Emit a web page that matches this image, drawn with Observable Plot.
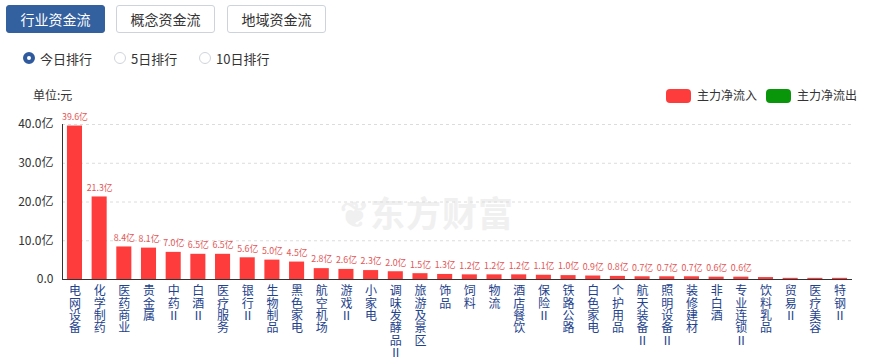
<!DOCTYPE html>
<html><head><meta charset="utf-8">
<script src="https://cdn.jsdelivr.net/npm/d3@7"></script>
<script src="https://cdn.jsdelivr.net/npm/@observablehq/plot@0.6"></script>
<style>
body{margin:0;background:#fff;font-family:"Noto Sans CJK SC","Noto Sans",sans-serif;width:873px;height:364px;overflow:hidden;position:relative;}
.btn{position:absolute;top:5px;height:28px;width:99px;border:1px solid #ccd3dc;border-radius:3px;box-sizing:border-box;font-size:14px;line-height:26px;text-align:center;color:#333;background:#fff;}
.btn.on{background:#33609f;color:#fff;border-color:#33609f;}
.radio{position:absolute;top:50px;font-size:13px;color:#333;line-height:18px;}
.radio i{position:absolute;left:-17px;top:2px;width:12px;height:12px;border-radius:50%;border:1px solid #d0d4da;box-sizing:border-box;background:#fff;}
.radio i.on{border:4px solid #2f5a9e;}
#unit{position:absolute;left:33px;top:86px;font-size:12px;color:#333;}
.leg{position:absolute;top:87px;font-size:12px;color:#333;line-height:16px;}
.leg b{position:absolute;left:-31px;top:2px;width:25px;height:14px;border-radius:4px;}
#wm{position:absolute;left:340px;top:186px;font-size:35px;font-weight:bold;color:#f0f0f0;letter-spacing:1px;}
#chart{position:absolute;left:0;top:80px;}
</style></head>
<body>
<div class="btn on" style="left:6px">行业资金流</div>
<div class="btn" style="left:116px">概念资金流</div>
<div class="btn" style="left:227px">地域资金流</div>
<div class="radio" style="left:40px"><i class="on"></i>今日排行</div>
<div class="radio" style="left:131px"><i></i>5日排行</div>
<div class="radio" style="left:216px"><i></i>10日排行</div>
<div id="wm">❦东方财富</div>
<div id="chart"></div>
<div id="unit">单位:元</div>
<div class="leg" style="left:697px"><b style="background:#fe3c3c"></b>主力净流入</div>
<div class="leg" style="left:797px"><b style="background:#0a960a"></b>主力净流出</div>
<script>
const categories = ["电网设备","化学制药","医药商业","贵金属","中药Ⅱ","白酒Ⅱ","医疗服务","银行Ⅱ","生物制品","黑色家电","航空机场","游戏Ⅱ","小家电","调味发酵品Ⅱ","旅游及景区","饰品","饲料","物流","酒店餐饮","保险Ⅱ","铁路公路","白色家电","个护用品","航天装备Ⅱ","照明设备Ⅱ","装修建材","非白酒","专业连锁Ⅱ","饮料乳品","贸易Ⅱ","医疗美容","特钢Ⅱ"];
const values = [39.6,21.3,8.4,8.1,7.0,6.5,6.5,5.6,5.0,4.5,2.8,2.6,2.3,2.0,1.5,1.3,1.2,1.2,1.2,1.1,1.0,0.9,0.8,0.7,0.7,0.7,0.6,0.6,0.5,0.3,0.3,0.3];
const valueLabels = ["39.6亿","21.3亿","8.4亿","8.1亿","7.0亿","6.5亿","6.5亿","5.6亿","5.0亿","4.5亿","2.8亿","2.6亿","2.3亿","2.0亿","1.5亿","1.3亿","1.2亿","1.2亿","1.2亿","1.1亿","1.0亿","0.9亿","0.8亿","0.7亿","0.7亿","0.7亿","0.6亿","0.6亿","","","",""];
const yTicks = [0,10,20,30,40];
const data = categories.map((name,i)=>({name, value: values[i], label: valueLabels[i]}));
const chart = Plot.plot({
  width: 873, height: 284,
  marginLeft: 62, marginRight: 21, marginTop: 44, marginBottom: 85,
  style: {fontFamily: "'Noto Sans CJK SC', sans-serif", background: "transparent"},
  x: {domain: categories, paddingInner: 0.39, paddingOuter: 0.2, round: false},
  y: {domain: [0, 40]},
  marks: [
    Plot.gridY(yTicks.slice(1), {stroke: "#dcdcdc", strokeOpacity: 1, strokeDasharray: "3,3"}),
    Plot.barY(data, {x: "name", y: "value", fill: "#fe3c3c"}),
    Plot.text(data, {x: "name", y: "value", text: "label", dy: -9, fill: "#e35656", fontSize: 8.8}),
    Plot.ruleY([0], {stroke: "#333"}),
    Plot.frame({anchor: "left", stroke: "#333"}),
    Plot.axisY({ticks: yTicks, tickFormat: d => d === 0 ? "0.0" : d.toFixed(1) + "亿", tickSize: 0, tickPadding: 9, fontSize: 12, fill: "#333", label: null}),
    Plot.axisX({tickFormat: d => [...d].join("\n"), tickSize: 0, tickPadding: 7, fontSize: 12, lineHeight: 1.03, fill: "#23428c", label: null})
  ]
});
document.getElementById("chart").appendChild(chart);
</script>
</body></html>
